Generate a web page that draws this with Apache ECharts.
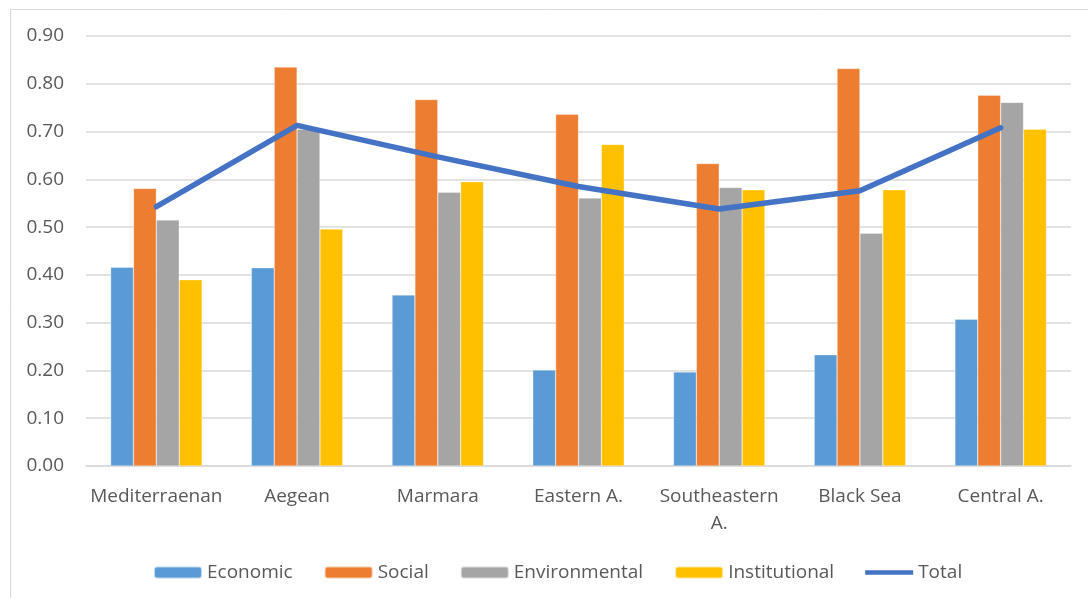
<!DOCTYPE html>
<html>
<head>
<meta charset="utf-8">
<script src="https://cdn.jsdelivr.net/npm/echarts@6/dist/echarts.min.js"></script>
<style>
html,body{margin:0;padding:0;background:#fff;}
#chart{width:1088px;height:598px;}
</style>
</head>
<body>
<div id="chart"></div>
<script>
const categories = ['Mediterraenan', 'Aegean', 'Marmara', 'Eastern A.', 'Southeastern A.', 'Black Sea', 'Central A.'];
const economic = [0.416, 0.415, 0.358, 0.201, 0.197, 0.233, 0.307];
const social = [0.581, 0.835, 0.767, 0.736, 0.633, 0.832, 0.776];
const environmental = [0.515, 0.705, 0.573, 0.561, 0.583, 0.487, 0.761];
const institutional = [0.390, 0.496, 0.595, 0.673, 0.578, 0.578, 0.705];
const total = [0.543, 0.713, 0.647, 0.585, 0.538, 0.576, 0.708];
const yTicks = { min: 0, max: 0.9, interval: 0.1 };

const chart = echarts.init(document.getElementById('chart'));
const font = '"Open Sans", "Noto Sans", sans-serif';
const textColor = '#595959';
function bar(name, data, color) {
  return {
    name, type: 'bar', data,
    barGap: '0%', barCategoryGap: '35%',
    itemStyle: { color, borderColor: 'rgba(255,255,255,0.6)', borderWidth: 0.5 }
  };
}
const lineIcon = 'path://M0,0L1,0L1,0.01Z M0,3.6L52,3.6L52,8.4L0,8.4Z M51,12L52,12L52,11.99Z';
chart.setOption({
  animation: false,
  textStyle: { fontFamily: font },
  graphic: [{
    type: 'rect', z: -1,
    shape: { x: 10.5, y: 9.5, width: 1200, height: 700 },
    style: { fill: 'none', stroke: '#d9d9d9', lineWidth: 1 }
  }],
  grid: { left: 86, right: 17, top: 36, bottom: 132, containLabel: false },
  legend: {
    left: 153, top: 563, padding: 0,
    itemWidth: 48, itemHeight: 12, itemGap: 31,
    textStyle: { fontFamily: font, fontSize: 19, color: textColor },
    data: ['Economic', 'Social', 'Environmental', 'Institutional',
      { name: 'Total', icon: lineIcon, itemStyle: { color: '#4472C4' } }]
  },
  xAxis: {
    type: 'category', data: categories,
    axisLine: { lineStyle: { color: '#d9d9d9', width: 1.5 } },
    axisTick: { show: false },
    axisLabel: {
      fontFamily: font, fontSize: 19, color: textColor, margin: 17, lineHeight: 27,
      interval: 0,
      formatter: v => v.length > 13 ? v.replace(/ (?=[^ ]*$)/, '\n') : v
    }
  },
  yAxis: {
    type: 'value', min: yTicks.min, max: yTicks.max, interval: yTicks.interval,
    axisLine: { show: false }, axisTick: { show: false },
    splitLine: { lineStyle: { color: '#d9d9d9', width: 1.5 } },
    axisLabel: {
      fontFamily: font, fontSize: 19, color: textColor, margin: 22,
      formatter: v => v.toFixed(2)
    }
  },
  series: [
    bar('Economic', economic, '#5B9BD5'),
    bar('Social', social, '#ED7D31'),
    bar('Environmental', environmental, '#A5A5A5'),
    bar('Institutional', institutional, '#FFC000'),
    {
      name: 'Total', type: 'line', data: total,
      symbol: 'none', showSymbol: false,
      lineStyle: { color: '#4472C4', width: 5.5, cap: 'round', join: 'round' },
      itemStyle: { color: '#4472C4' }, z: 5
    }
  ]
});
</script>
</body>
</html>
